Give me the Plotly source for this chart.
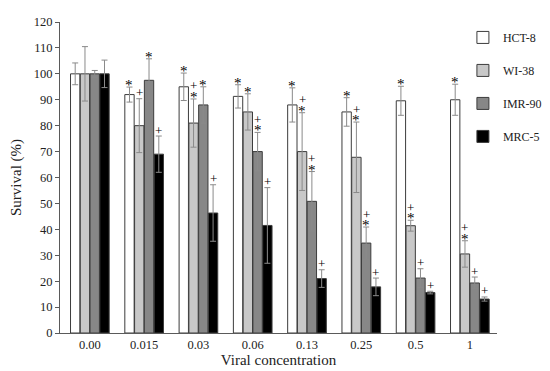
import plotly.graph_objects as go

categories = ["0.00", "0.015", "0.03", "0.06", "0.13", "0.25", "0.5", "1"]
series_names = ["HCT-8", "WI-38", "IMR-90", "MRC-5"]

hct8 = [100, 92, 95, 91.3, 88, 85.3, 89.6, 90]
hct8_err = [4.2, 2.9, 5.3, 4.5, 6.6, 5.5, 5.6, 6]
wi38 = [100, 80, 81, 85.3, 70, 67.8, 41.4, 30.5]
wi38_err = [10.5, 10.4, 9.3, 7, 15, 13.6, 2.1, 5.1]
imr90 = [100, 97.5, 88, 70, 50.8, 34.7, 21.2, 19.3]
imr90_err = [1.3, 8.3, 7, 7.4, 11.5, 6.2, 3.6, 2.3]
mrc5 = [100, 69, 46.3, 41.5, 21, 17.8, 15.6, 13.1]
mrc5_err = [5.3, 7, 10.9, 14.6, 3.4, 3.4, 0.5, 0.8]

# significance marks: "*" vs control, "+" vs HCT-8
hct8_marks = ["", "*", "*", "*", "*", "*", "*", "*"]
wi38_marks = ["", "+", "+*", "*", "+*", "+*", "+*", "+*"]
imr90_marks = ["", "*", "*", "+*", "+*", "+*", "+", "+"]
mrc5_marks = ["", "+", "+", "+", "+", "+", "+", "+"]

values = [hct8, wi38, imr90, mrc5]
errors = [hct8_err, wi38_err, imr90_err, mrc5_err]
marks = [hct8_marks, wi38_marks, imr90_marks, mrc5_marks]
colors = ["#ffffff", "#c8c8c8", "#878787", "#000000"]

slot = 0.18
bar_w = 0.172
serif = "Liberation Serif, Times New Roman, serif"

fig = go.Figure()
annotations = []
idx = list(range(len(categories)))
for k, name in enumerate(series_names):
    off = (k - 1.5) * slot
    xs = [i + off for i in idx]
    fig.add_trace(go.Bar(
        x=xs, y=values[k], width=bar_w, name=name, legendgroup=name,
        marker=dict(color=colors[k], line=dict(color="#3c3c3c", width=1)),
        error_y=dict(type="data", array=errors[k], color="#8a8a8a",
                     thickness=1, width=3),
    ))
    for i in idx:
        top = values[k][i] + errors[k][i]
        m = marks[k][i]
        if "*" in m:
            annotations.append(dict(x=xs[i], y=top, text="*", showarrow=False,
                                    xref="x", yref="y", yanchor="middle",
                                    yshift=2, font=dict(family=serif, size=15, color="#000")))
        if "+" in m:
            shift = 13 if "*" in m else 6
            annotations.append(dict(x=xs[i], y=top, text="+", showarrow=False,
                                    xref="x", yref="y", yanchor="middle",
                                    yshift=shift, font=dict(family=serif, size=13, color="#000")))

fig.update_layout(
    width=550, height=371,
    margin=dict(l=52, r=61, t=14, b=46, autoexpand=False),
    paper_bgcolor="white", plot_bgcolor="white",
    barmode="overlay",
    font=dict(family=serif, size=12.5, color="#222"),
    showlegend=True,
    legend=dict(x=0.922, y=0.997, xanchor="left", yanchor="top",
                font=dict(family=serif, size=12, color="#222"),
                tracegroupgap=14, bgcolor="rgba(0,0,0,0)"),
    annotations=annotations,
)
fig.update_xaxes(
    range=[-0.55, 7.5], tickvals=idx, ticktext=categories,
    showline=True, linecolor="#5a5a5a", linewidth=1, ticks="",
    showgrid=False, zeroline=False,
    title=dict(text="Viral concentration", standoff=2),
)
fig.update_yaxes(
    range=[0, 120], dtick=10, showline=True, linecolor="#5a5a5a", linewidth=1,
    ticks="outside", ticklen=4, tickcolor="#5a5a5a", showgrid=False, zeroline=False,
    title=dict(text="Survival (%)", standoff=9),
)

fig.write_html("out.html")
